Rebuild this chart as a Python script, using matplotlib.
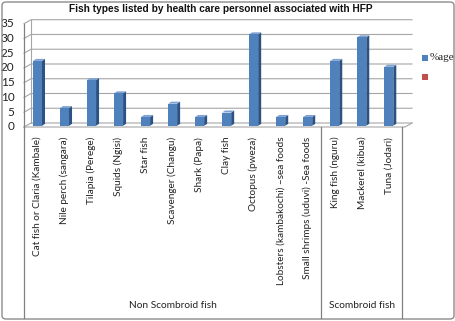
import matplotlib
matplotlib.use("Agg")
import matplotlib.pyplot as plt
from matplotlib.patches import Polygon, FancyBboxPatch, Rectangle
from matplotlib.lines import Line2D

# --- data ---
categories = [
    "Cat fish or Claria (Kambale)", "Nile perch (sangara)", "Tilapia (Perege)",
    "Squids (Ngisi)", "Star fish", "Scavenger (Changu)", "Shark (Papa)",
    "Clay fish", "Octopus (pweza)", "Lobsters (kambakochi) \u2013sea foods",
    "Small shrimps (uduvi) -Sea foods", "King fish (nguru)", "Mackerel (kibua)",
    "Tuna (Jodari)",
]
pct = [22, 6, 15.5, 11, 3, 7.5, 3, 4.5, 31, 3, 3, 22, 30, 20]
groups = ["Non Scombroid fish", "Scombroid fish"]
group_sizes = [11, 3]
yticks = [0, 5, 10, 15, 20, 25, 30, 35]

FRONT, SIDE, TOP = "#4F81BD", "#2C5283", "#7EA3D3"
GRID = "#A6A6A6"
TXT = "#222222"

W, H = 456, 321
fig = plt.figure(figsize=(W / 100, H / 100), dpi=100)
ax = fig.add_axes([24 / W, 1 - 127 / H, 381 / W, 108 / H])
xlo, xhi, ylo, yhi = -0.5, 13.6, 0, 36.6
ax.set_xlim(xlo, xhi)
ax.set_ylim(ylo, yhi)
ax.axis("off")

# pixel -> data sizes for the fake 3D depth
pcx = (xhi - xlo) / 381
pcy = (yhi - ylo) / 108
wall_dx, wall_dy = 7 * pcx, 4 * pcy
bar_dx, bar_dy = 3 * pcx, 2 * pcy
lift = 1.2 * pcy
bw = 9 * pcx

# back wall grid with slanted left wall
for v in yticks:
    ax.add_line(Line2D([xlo, xlo + wall_dx, xhi + wall_dx], [v, v + wall_dy, v + wall_dy],
                       color=GRID, lw=0.8, clip_on=False, zorder=1))
    ax.text(-0.85, v, str(v), ha="right", va="center", fontsize=8.5, family="Lato", color=TXT)
# floor and wall edges
ax.add_line(Line2D([xlo, xhi, xhi + wall_dx], [0, 0, wall_dy], color=GRID, lw=0.8,
                   clip_on=False, zorder=1))
ax.add_line(Line2D([xlo + wall_dx] * 2, [wall_dy, 35 + wall_dy], color=GRID, lw=0.8,
                   clip_on=False, zorder=1))

# bars: side + top faces, then front
for i, h in enumerate(pct):
    x0, x1 = i - bw / 2, i + bw / 2
    b, t = lift, h + lift
    ax.add_patch(Polygon([(x1, b), (x1 + bar_dx, b + bar_dy), (x1 + bar_dx, t + bar_dy), (x1, t)],
                         closed=True, fc=SIDE, ec="none", zorder=3))
    ax.add_patch(Polygon([(x0, t), (x0 + bar_dx, t + bar_dy), (x1 + bar_dx, t + bar_dy), (x1, t)],
                         closed=True, fc=TOP, ec="none", zorder=3))
ax.bar(range(len(pct)), pct, bottom=lift, width=bw, color=FRONT, edgecolor="none", zorder=4)

# category labels
for i, c in enumerate(categories):
    ax.annotate(c, xy=(i, 0), xycoords="data", xytext=(0, -7), textcoords="offset points",
                rotation=90, ha="center", va="top", fontsize=7.2, family="Lato",
                color=TXT, annotation_clip=False)

# group separators and labels
bounds = [xlo]
for n in group_sizes:
    bounds.append(bounds[-1] + n)
ax.add_line(Line2D([xlo, xlo], [0, 35], color="#808080", lw=0.9, clip_on=False, zorder=2))
for b in bounds:
    xf = ax.transData.transform((b, 0))[0] / W
    fig.add_artist(Line2D([xf, xf], [1 - 127 / H, 1 - 318 / H], color="#808080", lw=0.9))
for g, lo, hi in zip(groups, bounds[:-1], bounds[1:]):
    xf = ax.transData.transform(((lo + hi) / 2, 0))[0] / W
    fig.text(xf, 1 - 306 / H, g, ha="center", va="center", fontsize=7.3, family="Lato",
             color=TXT)

# title
fig.text(221 / W, 1 - 9 / H, "Fish types listed by health care personnel associated with HFP",
         ha="center", va="center", fontsize=7.3, fontweight="bold", family="Liberation Sans",
         color="#111111")

# legend
fig.add_artist(Rectangle((422 / W, 1 - 61 / H), 6 / W, 6 / H, fc=FRONT, ec="none"))
fig.text(430 / W, 1 - 57.5 / H, "%age", ha="left", va="center", fontsize=8,
         family="Liberation Serif", color=TXT)
fig.add_artist(Rectangle((422 / W, 1 - 80 / H), 6 / W, 6 / H, fc="#C0504D", ec="none"))

# outer border
fig.add_artist(FancyBboxPatch((2 / W, 2 / H), 1 - 4 / W, 1 - 4 / H,
                              boxstyle="round,pad=0,rounding_size=0.01",
                              fc="none", ec="#8C8C8C", lw=1, transform=fig.transFigure))

fig.savefig("out.png", dpi=100)
